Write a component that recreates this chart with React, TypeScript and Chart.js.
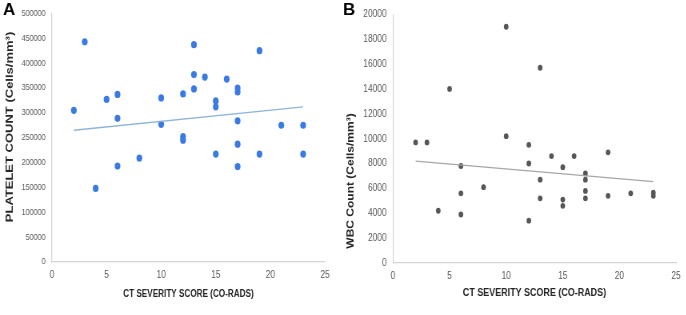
import React, { useEffect, useRef } from "react";
import { Chart, registerables } from "chart.js";

Chart.register(...registerables);

// Panel A: platelet count vs CT severity score
const scoreA = [2, 3, 4, 5, 6, 6, 6, 8, 10, 10, 12, 12, 12, 13, 13, 13, 14, 15, 15, 15, 16, 17, 17, 17, 17, 17, 19, 19, 21, 23, 23];
const plateletA = [305000, 443000, 148000, 327000, 337000, 289000, 193000, 209000, 330000, 277000, 338000, 252000, 245000, 437000, 377000, 348000, 372000, 324000, 312000, 217000, 368000, 350000, 342000, 284000, 237000, 192000, 425000, 217000, 275000, 275000, 217000];
const trendXA = [2, 23];
const trendYA = [265000, 312000];

// Panel B: WBC count vs CT severity score
const scoreB = [2, 3, 4, 5, 6, 6, 6, 8, 10, 10, 12, 12, 12, 13, 13, 13, 14, 15, 15, 15, 16, 17, 17, 17, 17, 19, 19, 21, 23, 23];
const wbcB = [9700, 9700, 4200, 14000, 7800, 5600, 3900, 6100, 19000, 10200, 9500, 8000, 3400, 15700, 6700, 5200, 8600, 7700, 5100, 4600, 8600, 7200, 6700, 5800, 5200, 8900, 5400, 5600, 5650, 5400];
const trendXB = [2, 23];
const trendYB = [8200, 6550];

const xTitle = "CT SEVERITY SCORE (CO-RADS)";
const yTitleA = "PLATELET COUNT (Cells/mm³)";
const yTitleB = "WBC Count (Cells/mm³)";

const SANS = '"Liberation Sans", Arial, sans-serif';
// horizontal squeeze of the rendered canvas (the original figure is horizontally condensed)
const S = 0.8;

const annotPlugin = {
  id: "annot",
  afterDraw(chart: any, _args: any, opts: any) {
    const ctx = chart.ctx;
    ctx.save();
    ctx.fillStyle = "#000";
    ctx.font = "bold 17px " + SANS;
    ctx.textAlign = "left";
    ctx.textBaseline = "top";
    ctx.translate(opts.panelX / S, opts.panelY);
    ctx.scale(1 / S, 1);
    ctx.fillText(opts.panel, 0, 0);
    ctx.restore();
    ctx.save();
    ctx.translate(opts.yTitleX / S, opts.yTitleY);
    ctx.rotate(-Math.PI / 2);
    ctx.font = opts.yTitleFont;
    ctx.textAlign = "center";
    ctx.textBaseline = "middle";
    ctx.fillStyle = "#262626";
    ctx.fillText(opts.yTitle, 0, 0);
    ctx.restore();
  },
};

type PanelProps = {
  left: number;
  width: number;
  xs: number[];
  ys: number[];
  tx: number[];
  ty: number[];
  yMax: number;
  yStep: number;
  pointColor: string;
  lineColor: string;
  pointRadius: number;
  plotLeft: number;
  plotRight: number;
  padTop: number;
  xAxisHeight: number;
  yTickSize: number;
  xTickSize: number;
  xTitleSize: number;
  panel: string;
  panelX: number;
  yTitle: string;
  yTitleX: number;
  yTitleY: number;
  yTitleFont: string;
};

function Panel(p: PanelProps) {
  const ref = useRef<HTMLCanvasElement>(null);
  const cw = Math.round(p.width / S);
  useEffect(() => {
    if (!ref.current) return;
    const pts = p.xs.map((x, i) => ({ x, y: p.ys[i] }));
    const trend = p.tx.map((x, i) => ({ x, y: p.ty[i] }));
    const chart = new Chart(ref.current, {
      type: "scatter",
      data: {
        datasets: [
          {
            data: trend,
            showLine: true,
            borderColor: p.lineColor,
            borderWidth: 1.3,
            pointRadius: 0,
          },
          {
            data: pts,
            backgroundColor: p.pointColor,
            borderColor: p.pointColor,
            pointRadius: p.pointRadius,
            borderWidth: 0,
          },
        ],
      },
      options: {
        responsive: false,
        animation: false,
        devicePixelRatio: 1,
        layout: {
          padding: { left: 0, right: cw - p.plotRight / S, top: p.padTop, bottom: 0 },
        },
        plugins: {
          legend: { display: false },
          tooltip: { enabled: false },
          annot: {
            panel: p.panel,
            panelX: p.panelX,
            panelY: 2,
            yTitle: p.yTitle,
            yTitleX: p.yTitleX,
            yTitleY: p.yTitleY,
            yTitleFont: p.yTitleFont,
          },
        } as any,
        scales: {
          x: {
            type: "linear",
            min: 0,
            max: 25,
            grid: { display: false, drawTicks: false },
            border: { color: "#d4d4d4", width: 1.2 },
            ticks: {
              stepSize: 5,
              padding: 7,
              color: "#595959",
              font: { family: SANS, size: p.xTickSize },
              callback: (v: any) => String(v),
            },
            title: {
              display: true,
              text: xTitle,
              color: "#262626",
              font: { family: SANS, size: p.xTitleSize, weight: "bold" },
              padding: { top: 0, bottom: 15 },
            },
            afterFit: (s: any) => {
              s.height = p.xAxisHeight;
            },
          },
          y: {
            type: "linear",
            min: 0,
            max: p.yMax,
            grid: { display: false, drawTicks: false },
            border: { color: "#d4d4d4", width: 1.2 },
            ticks: {
              stepSize: p.yStep,
              padding: 8,
              color: "#595959",
              font: { family: SANS, size: p.yTickSize },
              callback: (v: any) => String(v),
            },
            afterFit: (s: any) => {
              s.width = p.plotLeft / S;
            },
          },
        },
      },
      plugins: [annotPlugin as any],
    });
    return () => chart.destroy();
  }, []);
  return (
    <canvas
      ref={ref}
      width={cw}
      height={315}
      style={{
        position: "absolute",
        left: p.left,
        top: 0,
        transform: `scaleX(${S})`,
        transformOrigin: "0 0",
      }}
    />
  );
}

export default function App() {
  return (
    <div style={{ position: "absolute", left: 0, top: 0, width: 686, height: 315, background: "#fff", overflow: "hidden" }}>
      <Panel
        left={0}
        width={340}
        xs={scoreA}
        ys={plateletA}
        tx={trendXA}
        ty={trendYA}
        yMax={500000}
        yStep={50000}
        pointColor="#3a7be3"
        lineColor="#8fb4da"
        pointRadius={3.6}
        plotLeft={52}
        plotRight={325}
        padTop={12}
        xAxisHeight={53}
        yTickSize={9}
        xTickSize={10.5}
        xTitleSize={10.2}
        panel="A"
        panelX={3}
        yTitle={yTitleA}
        yTitleX={10}
        yTitleY={127}
        yTitleFont={"bold 13px " + SANS}
      />
      <Panel
        left={340}
        width={346}
        xs={scoreB}
        ys={wbcB}
        tx={trendXB}
        ty={trendYB}
        yMax={20000}
        yStep={2000}
        pointColor="#575757"
        lineColor="#a6a6a6"
        pointRadius={2.9}
        plotLeft={53}
        plotRight={336}
        padTop={10}
        xAxisHeight={52}
        yTickSize={10.5}
        xTickSize={10.5}
        xTitleSize={11.2}
        panel="B"
        panelX={3}
        yTitle={yTitleB}
        yTitleX={11}
        yTitleY={181}
        yTitleFont={"bold 12px " + SANS}
      />
    </div>
  );
}
